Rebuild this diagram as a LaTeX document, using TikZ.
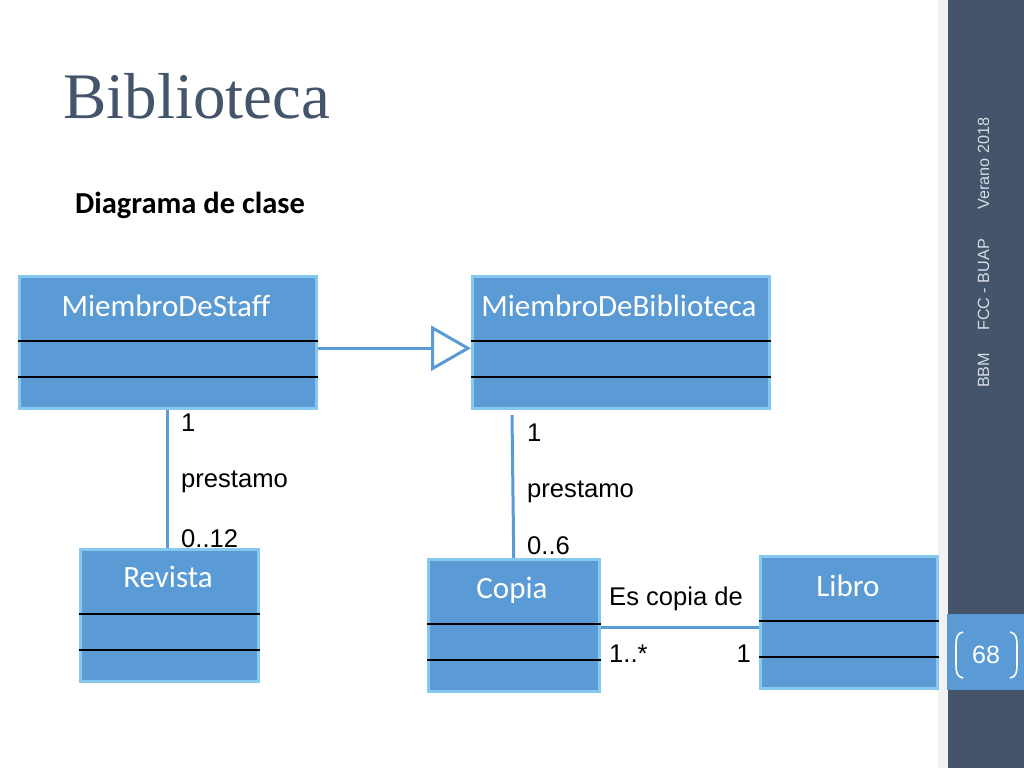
\documentclass[tikz,border=0pt]{standalone}
\usepackage{fontspec}
\setmainfont{Liberation Serif}
\newfontfamily\calibri[Ligatures=NoCommon]{Carlito}
\newfontfamily\arial{Liberation Sans}
\usetikzlibrary{arrows.meta,calc}
\definecolor{slate}{RGB}{68,84,106}
\definecolor{oblue}{RGB}{91,155,213}
\definecolor{bborder}{RGB}{135,200,240}
\definecolor{sidetext}{RGB}{215,220,228}
\tikzset{
  classbox/.style={rectangle, fill=oblue, draw=bborder, line width=2.5pt, minimum width=#1, minimum height=132pt, anchor=north west, inner sep=0pt},
  classtitle/.style={text=white, font=\calibri\fontsize{31}{34}\selectfont, anchor=base, inner sep=0pt},
  divider/.style={black, line width=1.6pt},
  assoc/.style={oblue, line width=3pt},
  lbl/.style={font=\arial\fontsize{25.6}{29}\selectfont, anchor=base west, inner sep=0pt, text=black},
  sidelbl/.style={font=\arial\fontsize{16.2}{19}\selectfont, text=sidetext, rotate=90, anchor=base west, inner sep=0pt}
}
\begin{document}
\begin{tikzpicture}[x=1pt,y=-1pt]
\useasboundingbox (0,0) rectangle (1024,768);
\fill[white] (0,0) rectangle (1024,768);
% sidebar
\fill[black!5] (938,0) rectangle (948,768);
\fill[slate] (948,0) rectangle (1024,768);
\fill[oblue] (947,614) rectangle (1024,690);
\node[font=\arial\fontsize{25}{28}\selectfont, text=white, inner sep=0pt] (page) at (986,655) {68};
\draw[white, line width=1.6pt] (963,632) .. controls (957,633) and (956,638) .. (956,645) -- (956,665) .. controls (956,672) and (957,677) .. (963,678);
\draw[white, line width=1.6pt] (1010,632) .. controls (1016,633) and (1017,638) .. (1017,645) -- (1017,665) .. controls (1017,672) and (1016,677) .. (1010,678);
\node[sidelbl] (bbm) at (989,388) {BBM};
\node[sidelbl] (fcc) at (989,331) {FCC - BUAP};
\node[sidelbl] (ver) at (989,210) {Verano 2018};
% titles
\node[font=\fontsize{65}{70}\selectfont, text=slate, anchor=base west, inner sep=0pt] (title) at (63,118) {Biblioteca};
\node[font=\calibri\bfseries\fontsize{30.5}{34}\selectfont, anchor=base west, inner sep=0pt] (sub) at (75,213) {Diagrama de clase};
% classes
\node[classbox=297pt] (staff) at (18,275) {};
\node[classbox=297pt] (bib) at (471,275) {};
\node[classbox=178pt] (rev) at (79,548) {};
\node[classbox=171pt] (copia) at (427,558) {};
\node[classbox=177pt] (libro) at (759,555) {};
\node[classtitle] (staffT) at (166,316) {MiembroDeStaff};
\node[classtitle] (bibT) at (619,316) {MiembroDeBiblioteca};
\node[classtitle] (revT) at (168,587) {Revista};
\node[classtitle] (copiaT) at (512,598) {Copia};
\node[classtitle] (libroT) at (848,596) {Libro};
\foreach \n/\a/\b in {staff/66/102, bib/66/102, rev/66/102, copia/66/102, libro/66/102}{
  \draw[divider] ([yshift=-\a pt]\n.north west) -- ([yshift=-\a pt]\n.north east);
  \draw[divider] ([yshift=-\b pt]\n.north west) -- ([yshift=-\b pt]\n.north east);
}
% connectors
\draw[assoc, -{Triangle[open, fill=white, length=40pt, width=45pt]}] ([yshift=-6pt]staff.east) -- ([yshift=-6pt]bib.west);
\draw[assoc] (staff.south) -- (staff.south |- rev.north);
\coordinate (bibEnd) at (512,415);
\draw[assoc] (copia.north) -- (bibEnd);
\coordinate (esY) at (700,627);
\draw[assoc] (copia.east |- esY) -- (libro.west |- esY);
% labels
\node[lbl] (l1) at (181,431) {1};
\node[lbl] (l2) at (181,487) {prestamo};
\node[lbl] (l3) at (181,547) {0..12};
\node[lbl] (r1) at (527,441) {1};
\node[lbl] (r2) at (527,497) {prestamo};
\node[lbl] (r3) at (527,554) {0..6};
\node[lbl] (e1) at (609,605) {Es copia de};
\node[lbl] (e2) at (609,662) {1..*};
\node[lbl, anchor=base east] (e3) at (751,662) {1};
\end{tikzpicture}
\end{document}
